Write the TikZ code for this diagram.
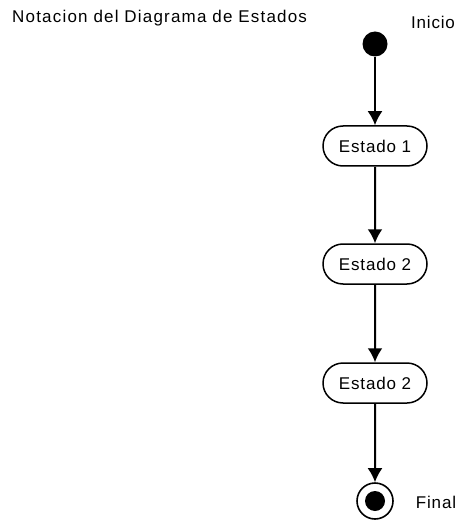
\documentclass[tikz,border=0pt]{standalone}
\usepackage{fontspec}
\usepackage{tikz}
\usetikzlibrary{arrows.meta,shapes.misc}
\newfontfamily\diafont[LetterSpace=5]{Liberation Sans}
\newfontfamily\titlefont[LetterSpace=7]{Liberation Sans}

\begin{document}
\begin{tikzpicture}[x=1pt,y=1pt,yscale=-1,xscale=1,
    estado/.style={draw,line width=1.5pt,rounded rectangle,minimum width=104pt,minimum height=40pt,inner sep=0pt,font=\diafont\fontsize{17}{20}\selectfont},
    inicial/.style={fill,circle,minimum size=25pt,inner sep=0pt},
    final/.style={draw,line width=1.6pt,circle,minimum size=36pt,inner sep=0pt,
        path picture={\fill (path picture bounding box.center) circle (10pt);}},
    etiqueta/.style={inner sep=0pt,font=\diafont\fontsize{17}{20}\selectfont},
    trans/.style={line width=2pt,-{Latex[length=14pt,width=15pt]}}]
    \path (0,0) rectangle (459,521); %set diagram size to 459x521

    % Title
    \node [anchor=west,inner sep=0pt,font=\titlefont\fontsize{17}{20}\selectfont] (titulo) at (12,18) {Notacion del Diagrama de Estados};

    % Initial state
    \node [inicial] (ini) at (375,44) {};
    \node [etiqueta] (lini) at (433,22) {Inicio};

    % States
    \node [estado] (e1) at (375,146) {Estado 1};
    \node [estado] (e2) at (375,264) {Estado 2};
    \node [estado] (e3) at (375,383) {Estado 2};

    % Final state
    \node [final] (fin) at (375,501) {};
    \node [etiqueta] (lfin) at (436,502) {Final};

    % Transitions
    \draw [trans] (ini) -- (e1);
    \draw [trans] (e1) -- (e2);
    \draw [trans] (e2) -- (e3);
    \draw [trans] (e3) -- (fin);

\end{tikzpicture}
\end{document}
